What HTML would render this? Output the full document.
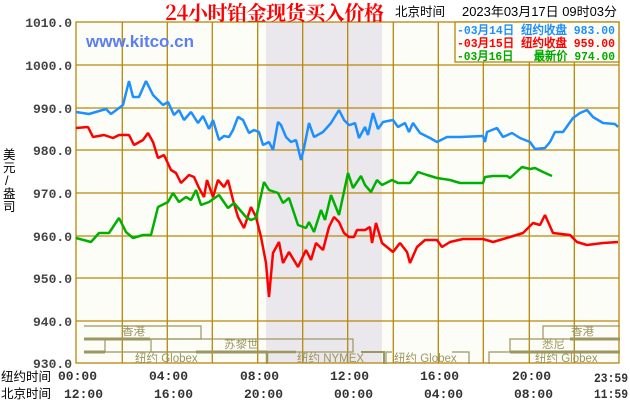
<!DOCTYPE html>
<html><head><meta charset="utf-8"><style>
body{margin:0;background:#fff}
svg{display:block}
.yl{font-family:"Liberation Mono",monospace;font-weight:bold;font-size:13px;fill:#444}
.tl{font-family:"Liberation Mono",monospace;font-weight:bold;font-size:13px;fill:#333}
.cj{font-family:"Liberation Sans","WenQuanYi Zen Hei",sans-serif;font-size:12.5px;fill:#000}
.lg{font-family:"Liberation Mono","WenQuanYi Zen Hei",monospace;font-weight:bold;font-size:12px}
.ss{font-family:"Liberation Sans","WenQuanYi Zen Hei",sans-serif;font-size:11.5px;fill:#9c9660}
</style></head><body>
<svg width="630" height="400" viewBox="0 0 630 400" xmlns="http://www.w3.org/2000/svg">
<rect x="76" y="22" width="543" height="341" fill="#fcfdf7"/>
<rect x="266" y="22" width="116" height="341" fill="#eae8ec"/>
<g stroke="#b8860b" stroke-width="1.3">
<line x1="76" y1="65" x2="619" y2="65"/><line x1="76" y1="108" x2="619" y2="108"/><line x1="76" y1="150" x2="619" y2="150"/><line x1="76" y1="193" x2="619" y2="193"/><line x1="76" y1="236" x2="619" y2="236"/><line x1="76" y1="278" x2="619" y2="278"/><line x1="76" y1="321" x2="619" y2="321"/>
<line x1="122.3" y1="22" x2="122.3" y2="363"/><line x1="167.3" y1="22" x2="167.3" y2="363"/><line x1="212.3" y1="22" x2="212.3" y2="363"/><line x1="257.7" y1="22" x2="257.7" y2="363"/><line x1="302.7" y1="22" x2="302.7" y2="363"/><line x1="347.7" y1="22" x2="347.7" y2="363"/><line x1="393.3" y1="22" x2="393.3" y2="363"/><line x1="438.3" y1="22" x2="438.3" y2="363"/><line x1="483.3" y1="22" x2="483.3" y2="363"/><line x1="529.3" y1="22" x2="529.3" y2="363"/><line x1="574.3" y1="22" x2="574.3" y2="363"/>
<rect x="76" y="22" width="543" height="341" fill="none"/>
</g>
<g stroke="#9c9660" fill="none" stroke-width="1.2">
<polyline points="84,326 201,326 201,339 150,339"/>
<line x1="84" y1="339" x2="150" y2="339" stroke-width="3"/>
<polyline points="84,339 105,339 105,352"/>
<rect x="151" y="339" width="202" height="13"/>
<line x1="84" y1="352" x2="105" y2="352" stroke-width="3"/>
<line x1="105" y1="352" x2="196" y2="352"/>
<line x1="196" y1="352" x2="267" y2="352" stroke-width="3"/>
<polyline points="267,364 267,352 296,352" stroke-width="2.5"/>
<polyline points="361,352 384,352 384,364" stroke-width="2"/>
<polyline points="386,364 386,352 392,352"/>
<polyline points="452,352 469,352 469,364"/>
<polyline points="489,364 489,352 510,352 510,339 620,339"/>
<line x1="510" y1="352" x2="620" y2="352" stroke-width="3"/>
<polyline points="543,339 543,326 620,326"/>
<line x1="570" y1="339" x2="620" y2="339" stroke-width="3"/>
</g>
<text class="ss" x="122" y="335">香港</text>
<text class="ss" x="224" y="348">苏黎世</text>
<text class="ss" x="135" y="362">纽约 Globex</text>
<text class="ss" x="297" y="362">纽约 NYMEX</text>
<text class="ss" x="394" y="362">纽约 Globex</text>
<text class="ss" x="535" y="362">纽约 Globex</text>
<text class="ss" x="542" y="348">悉尼</text>
<text class="ss" x="571" y="335">香港</text>
<g fill="none" stroke-width="2.5" stroke-linejoin="bevel">
<polyline stroke="#1e8fff" points="76,112 89,114 106,109 111,114 123,105 129,81 133,97 139,97 146,81 153,95 163,105 168,102 174,115 179,110 184,120 191,112 198,123 203,116 209,129 213,120 219,140 224,136 229,137 233,130 238,117 243,120 249,133 254,130 259,132 263,145 269,142 273,150 278,122 281,125 286,137 291,142 296,140 301,160 304,148 309,123 314,137 323,132 331,123 339,110 344,120 349,125 350,125 355,123 359,138 365,127 368,135 373,113 378,129 383,122 393,120 398,127 405,123 409,132 413,123 420,133 430,138 437,142 447,137 460,137 483,136 485,142 487,132 497,128 503,137 512,133 520,138 530,142 535,149 545,148 550,142 555,132 563,132 573,118 580,113 587,110 593,117 603,123 615,124 618,127"/>
<polyline stroke="#ff0000" points="76,128 88,127 93,137 104,135 113,138 119,135 129,135 134,145 143,140 148,133 153,142 158,158 164,155 171,170 176,173 181,183 189,175 194,177 199,188 204,197 207,180 213,197 218,180 224,187 228,180 233,200 238,217 244,228 251,207 256,217 261,237 266,263 269,297 273,253 279,242 283,263 289,252 298,267 306,250 311,260 316,243 323,250 329,227 334,217 339,222 344,233 349,237 354,237 357,230 365,230 370,227 372,243 376,223 382,243 393,252 400,243 407,252 410,263 417,247 425,240 437,240 442,247 450,242 463,239 483,239 493,242 510,237 523,233 533,223 540,225 545,215 553,233 570,235 577,242 587,245 603,243 618,242"/>
<polyline stroke="#00b000" points="76,238 91,242 99,233 109,233 119,218 126,232 133,238 143,235 151,235 158,207 168,202 173,193 179,202 186,197 191,200 196,190 201,205 209,202 219,195 228,208 234,203 246,217 251,220 256,218 264,182 269,190 278,193 283,203 289,198 298,225 306,228 309,222 314,232 321,210 325,220 331,195 339,215 348,173 353,188 361,176 365,185 371,192 377,180 382,185 392,180 398,183 410,183 418,172 427,175 437,178 450,180 460,183 483,183 485,177 493,176 507,176 510,178 522,167 530,169 535,168 543,172 552,176"/>
</g>
<rect x="455" y="22" width="164" height="40" fill="#fcfdf7" stroke="#b8860b" stroke-width="1.3"/>
<text class="lg" x="457" y="34" fill="#1e8fff" textLength="158" lengthAdjust="spacingAndGlyphs">-03月14日 纽约收盘 983.00</text>
<text class="lg" x="457" y="47" fill="#ff0000" textLength="158" lengthAdjust="spacingAndGlyphs">-03月15日 纽约收盘 959.00</text>
<text class="lg" x="457" y="60" fill="#00aa00" textLength="158" lengthAdjust="spacingAndGlyphs">-03月16日 &#160;&#160;最新价 974.00</text>
<text x="165" y="20" font-family="'Noto Serif CJK SC',serif" font-size="20" font-weight="bold" fill="#ff0000" textLength="219">24小时铂金现货买入价格</text>
<text class="cj" x="395" y="16">北京时间</text>
<text class="cj" x="462" y="16" font-family="'Liberation Mono','WenQuanYi Zen Hei',monospace" textLength="155" lengthAdjust="spacingAndGlyphs">2023年03月17日 09时03分</text>
<text x="86" y="47" font-family="'Liberation Sans',sans-serif" font-size="17" font-weight="bold" fill="#5b7ef0">www.kitco.cn</text>
<g class="yl" text-anchor="end">
<text x="72" y="27">1010.0</text><text x="72" y="70">1000.0</text><text x="72" y="113">990.0</text><text x="72" y="155">980.0</text><text x="72" y="198">970.0</text><text x="72" y="241">960.0</text><text x="72" y="283">950.0</text><text x="72" y="326">940.0</text><text x="72" y="368">930.0</text>
</g>
<g class="cj" font-size="12">
<text x="3" y="159">美</text><text x="3" y="172">元</text><text x="5" y="185">/</text><text x="3" y="198">盎</text><text x="3" y="211">司</text>
</g>
<text class="cj" x="1" y="381">纽约时间</text>
<text class="cj" x="1" y="398">北京时间</text>
<g class="tl">
<text x="58" y="380">00:00</text><text x="149" y="380">04:00</text><text x="240" y="380">08:00</text><text x="330" y="380">12:00</text><text x="420" y="380">16:00</text><text x="512" y="380">20:00</text><text x="594" y="382" textLength="34" lengthAdjust="spacingAndGlyphs">23:59</text>
<text x="64" y="398">12:00</text><text x="154" y="398">16:00</text><text x="244" y="398">20:00</text><text x="334" y="398">00:00</text><text x="424" y="398">04:00</text><text x="514" y="398">08:00</text><text x="594" y="398" textLength="34" lengthAdjust="spacingAndGlyphs">11:59</text>
</g>
</svg>
</body></html>
